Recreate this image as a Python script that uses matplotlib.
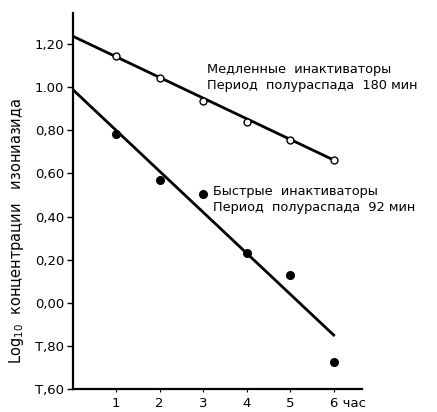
import numpy as np
import matplotlib.pyplot as plt
import matplotlib.transforms as mtransforms

# hours after dose
hours = [1, 2, 3, 4, 5, 6]
# log10 of isoniazid concentration
slow_vals = [1.144, 1.042, 0.936, 0.838, 0.755, 0.662]
fast_vals = [0.783, 0.569, 0.504, 0.231, 0.129, -0.275]
# fitted lines (start at 0 h, end at 6 h)
slow_fit_x = [0, 6]
slow_fit_y = [1.237, 0.662]
fast_fit_x = [0, 6]
fast_fit_y = [0.99, -0.15]

y_ticks = [1.2, 1.0, 0.8, 0.6, 0.4, 0.2, 0.0, -0.2, -0.4]
y_labels = ["1,20", "1.00", "0,80", "0,60", "0,40", "0,20", "0,00", "T,80", "T,60"]
x_labels = ["1", "2", "3", "4", "5", "6 час"]

plt.rcParams["font.family"] = ["DejaVu Sans"]

fig = plt.figure(figsize=(4.37, 4.12), dpi=100)
ax = fig.add_axes([72.5 / 437, 1 - 389 / 412, (362 - 72.5) / 437, (389 - 13) / 412])

ax.plot(slow_fit_x, slow_fit_y, color="black", lw=2)
ax.plot(fast_fit_x, fast_fit_y, color="black", lw=2)
ax.plot(hours, slow_vals, "o", ms=5, mfc="white", mec="black", mew=1)
ax.plot(hours, fast_vals, "o", ms=5.5, color="black")

ax.set_xlim(0, 6.65)
ax.set_ylim(-0.4, 1.344)
ax.set_xticks(hours)
ax.set_xticklabels(x_labels)
ax.set_yticks(y_ticks)
ax.set_yticklabels(y_labels)

for s in ("top", "right"):
    ax.spines[s].set_visible(False)
for s in ("left", "bottom"):
    ax.spines[s].set_linewidth(1.6)
ax.tick_params(axis="y", direction="out", length=4, width=1, labelsize=9.5, pad=2)
ax.tick_params(axis="x", direction="out", length=2, width=0.8, labelsize=9.5, pad=4)
# "6 час": keep the 6 under its tick
last = ax.get_xticklabels()[-1]
last.set_horizontalalignment("left")
last.set_transform(last.get_transform() + mtransforms.ScaledTranslation(-4 / 100, 0, fig.dpi_scale_trans))

fig.text(17 / 437, 1 - 231 / 412, "Log$_{10}$  концентрации   изониазида",
         rotation=90, ha="center", va="center", fontsize=10.5)

ax.text(3.09, 1.047, "Медленные  инактиваторы\nПериод  полураспада  180 мин",
        fontsize=9.3, va="center", ha="left", linespacing=1.3)
ax.text(3.23, 0.481, "Быстрые  инактиваторы\nПериод  полураспада  92 мин",
        fontsize=9.3, va="center", ha="left", linespacing=1.3)

fig.savefig("out.png", dpi=100)
